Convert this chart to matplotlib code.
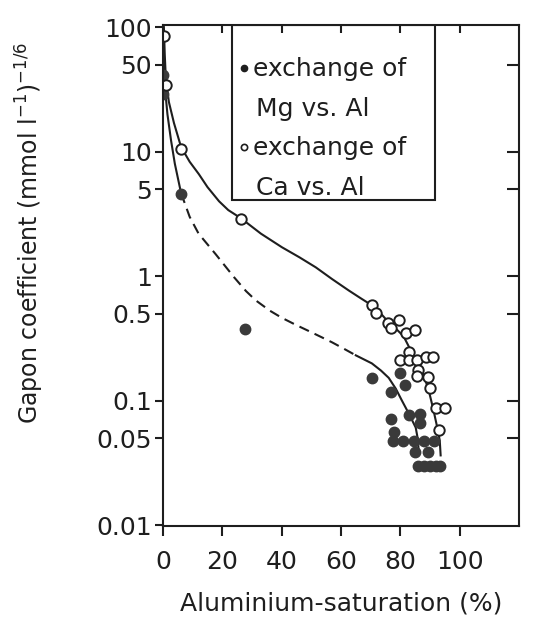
import matplotlib
matplotlib.use("Agg")
import matplotlib.pyplot as plt
from matplotlib.patches import Rectangle

plt.rcParams['font.family'] = ['DejaVu Sans']
INK = '#1e1e1e'

# Mg vs. Al (filled circles)
mg_x = [0, 0, 6, 27.6, 70.4, 80, 81.5, 77, 76.8, 83, 86.5, 86.5, 78,
        77.4, 81, 84.5, 88, 91.5, 85, 89.5, 86, 88, 90, 92, 93.5]
mg_y = [41, 29, 4.6, 0.38, 0.152, 0.166, 0.133, 0.117, 0.072, 0.0765, 0.079,
        0.066, 0.056, 0.048, 0.048, 0.048, 0.048, 0.048, 0.0386, 0.0386,
        0.030, 0.030, 0.030, 0.030, 0.030]

# Ca vs. Al (open circles)
ca_x = [0.5, 1, 6, 26.3, 70.4, 71.7, 76, 79.5, 77, 82, 85, 83, 80, 83, 85.5,
        88.5, 91, 86, 85.5, 89.5, 90, 92, 95, 93]
ca_y = [85, 34, 10.5, 2.9, 0.585, 0.505, 0.419, 0.443, 0.382, 0.348, 0.368,
        0.245, 0.211, 0.211, 0.211, 0.224, 0.224, 0.176, 0.157, 0.155,
        0.126, 0.087, 0.087, 0.058]

# fitted curves
ca_curve_x = [0.3, 0.6, 1.0, 2.0, 3.7, 6.1, 9, 12.1, 15, 18.9, 22, 26.3, 33,
              40.1, 46, 51.5, 57, 62.6, 66.5, 70.4, 73.5, 76.1, 79, 81.1,
              83.5, 85.5, 87.9, 89.6, 91.2, 92.3, 93.3, 93.6]
ca_curve_y = [100, 60, 37.5, 25, 17, 10.9, 8.3, 6.6, 5.2, 4.0, 3.4, 2.92, 2.2,
              1.71, 1.42, 1.18, 0.95, 0.77, 0.67, 0.585, 0.5, 0.427, 0.37,
              0.33, 0.255, 0.204, 0.160, 0.121, 0.084, 0.0636, 0.0482, 0.0365]

mg_curve_x = [0.2, 0.5, 0.8, 1.5, 2.7, 4, 6.1, 9, 12, 17.8, 24, 28, 31.3, 36,
              40, 45, 49, 53.5, 57, 61, 65, 70.4, 73.5, 76.1, 78.5, 80.5, 83,
              85.2, 86, 86.2]
mg_curve_y = [60, 40, 30, 20, 12.4, 8, 4.65, 3.0, 2.2, 1.5, 0.98, 0.76, 0.64,
              0.53, 0.465, 0.405, 0.365, 0.324, 0.295, 0.262, 0.232, 0.2,
              0.175, 0.153, 0.125, 0.101, 0.078, 0.061, 0.048, 0.038]
dash_start, dash_end = 6, 20   # dashed part of the Mg curve

y_ticks = [100, 50, 10, 5, 1, 0.5, 0.1, 0.05, 0.01]
y_labels = ['100', '50', '10', '5', '1', '0.5', '0.1', '0.05', '0.01']
x_ticks = [0, 20, 40, 60, 80, 100]

fig = plt.figure(figsize=(5.37, 6.23), dpi=100)
ax = fig.add_axes([0.3035, 0.1557, 0.6629, 0.8042])

ax.plot(ca_curve_x, ca_curve_y, '-', color=INK, lw=1.5)
ax.plot(mg_curve_x[:dash_start + 1], mg_curve_y[:dash_start + 1], '-', color=INK, lw=1.5)
ax.plot(mg_curve_x[dash_start:dash_end + 1], mg_curve_y[dash_start:dash_end + 1],
        color=INK, lw=1.5, dashes=(5, 3))
ax.plot(mg_curve_x[dash_end:], mg_curve_y[dash_end:], '-', color=INK, lw=1.5)

ax.plot(mg_x, mg_y, 'o', ms=7.5, color='#3a3a3a', mec='#3a3a3a', ls='none')
ax.plot(ca_x, ca_y, 'o', ms=7.5, mfc='white', mec=INK, mew=1.4, ls='none')

ax.set_yscale('log')
ax.set_ylim(0.0099, 104)
ax.set_xlim(0, 120)
ax.set_yticks(y_ticks)
ax.set_yticklabels(y_labels)
ax.minorticks_off()
ax.set_xticks(x_ticks)

for s in ax.spines.values():
    s.set_linewidth(1.5)
    s.set_color(INK)
ax.tick_params(axis='both', labelsize=18, colors=INK, width=1.5)
ax.tick_params(axis='y', direction='out', length=6, pad=2)
ax.tick_params(axis='x', direction='out', length=7, pad=10)

# inward ticks on top and right
top = ax.secondary_xaxis('top')
top.set_xticks([20, 40, 60, 80, 100])
top.tick_params(direction='in', length=6, width=1.5, labeltop=False, colors=INK)
right = ax.secondary_yaxis('right')
right.set_yticks([50, 10, 5, 1, 0.5, 0.1, 0.05])
right.minorticks_off()
right.tick_params(direction='in', length=9, width=1.5, labelright=False, colors=INK)
for sec in (top, right):
    for s in sec.spines.values():
        s.set_visible(False)

ax.set_xlabel('Aluminium-saturation (%)', fontsize=18, color=INK, labelpad=13)
ax.set_ylabel(r'Gapon coefficient (mmol l$^{-1}$)$^{-1/6}$', fontsize=17, color=INK)
ax.yaxis.set_label_coords(-0.33, 0.585)

# legend box drawn by hand
ax.add_patch(Rectangle((0.194, 0.651), 0.57, 0.349, transform=ax.transAxes,
                       fill=False, ec=INK, lw=1.5, zorder=5))
ax.plot([0.228], [0.915], 'o', ms=4.5, color=INK, transform=ax.transAxes, clip_on=False)
ax.plot([0.228], [0.757], 'o', ms=4.5, mfc='white', mec=INK, mew=1.2,
        transform=ax.transAxes, clip_on=False)
leg_lines = [('exchange of', 0.252, 0.912), ('Mg vs. Al', 0.262, 0.832),
             ('exchange of', 0.252, 0.754), ('Ca vs. Al', 0.262, 0.674)]
for txt, tx, ty in leg_lines:
    ax.text(tx, ty, txt, transform=ax.transAxes, fontsize=18, color=INK,
            va='center', ha='left')

fig.savefig('out.png', dpi=100, facecolor='white')
